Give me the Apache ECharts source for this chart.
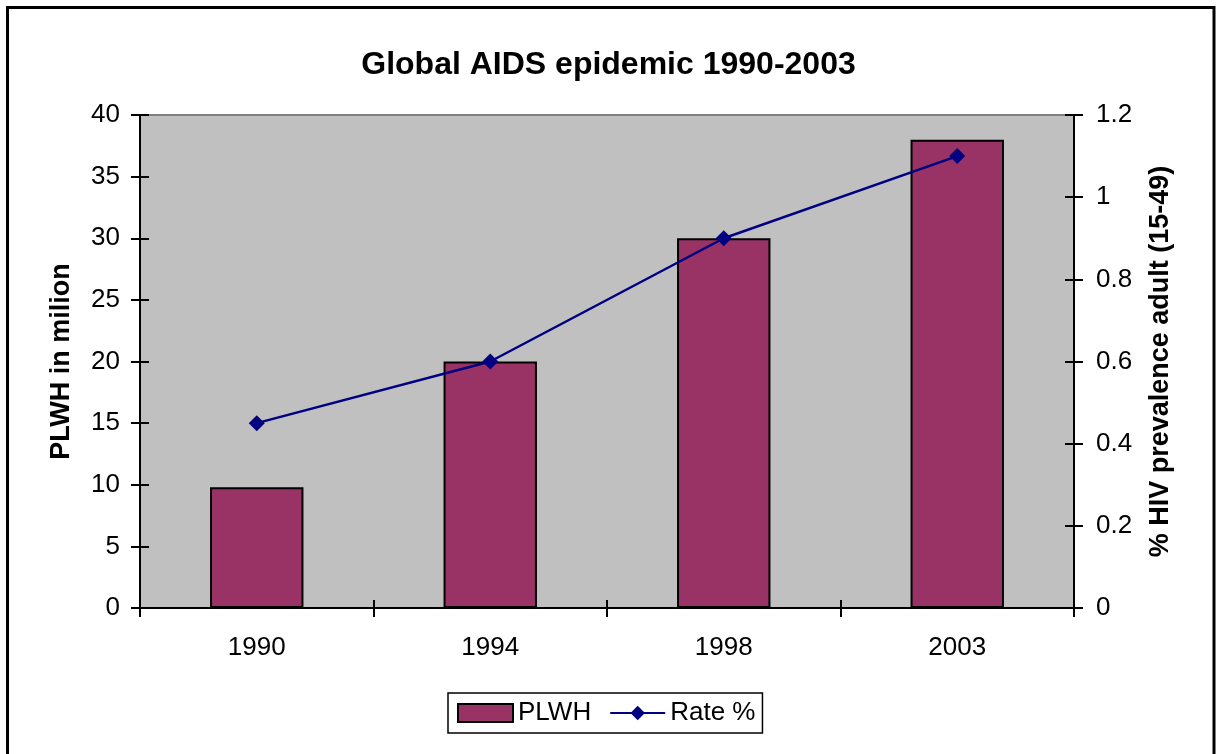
<!DOCTYPE html>
<html>
<head>
<meta charset="utf-8">
<script src="https://cdn.jsdelivr.net/npm/echarts@6/dist/echarts.min.js"></script>
<style>
  html, body { margin: 0; padding: 0; background: #fff; }
  #chart { width: 1217px; height: 754px; }
</style>
</head>
<body>
<div id="chart"></div>
<script>
// Global AIDS epidemic: people living with HIV (millions) and adult prevalence rate
const years = ['1990', '1994', '1998', '2003'];
const plwh = [9.8, 20, 30, 38];
const ratePct = [0.45, 0.6, 0.9, 1.1];

const FONT = '"Liberation Sans", Arial, sans-serif';

const chart = echarts.init(document.getElementById('chart'), null, { renderer: 'canvas' });

const tickStyle = { color: '#000', width: 2 };
const lineStyle = { color: '#000', width: 2 };
const plotBox = { left: 140, right: 143, top: 115, bottom: 146 };

// Tick marks cross the axis lines: the data axes are shifted inward by half a
// tick length and draw long outside ticks; the lines come from an overlay grid.
const HALF_TICK = 9;

chart.setOption({
  backgroundColor: '#fff',
  animation: false,
  textStyle: { fontFamily: FONT },
  title: {
    text: 'Global AIDS epidemic 1990-2003',
    left: 'center',
    top: 44,
    textStyle: { fontFamily: FONT, fontSize: 32, fontWeight: 'bold', color: '#000' }
  },
  graphic: [{
    type: 'rect',
    shape: { x: 7.5, y: 7.5, width: 1206.5, height: 760 },
    style: { fill: 'none', stroke: '#000', lineWidth: 3 },
    z: 100
  }],
  legend: {
    left: 448,
    top: 693,
    padding: [7, 7, 7, 9],
    itemGap: 18,
    itemWidth: 55,
    itemHeight: 18,
    borderColor: '#000',
    borderWidth: 1.5,
    textStyle: { fontFamily: FONT, fontSize: 26, color: '#000' },
    data: [{ name: 'PLWH', icon: 'rect' }, { name: 'Rate %' }]
  },
  grid: [
    Object.assign({
      show: true,
      backgroundColor: '#c0c0c0',
      borderColor: '#808080',
      borderWidth: 2
    }, plotBox),
    Object.assign({ show: false }, plotBox)
  ],
  xAxis: [{
    type: 'category',
    gridIndex: 0,
    data: years,
    boundaryGap: true,
    offset: -HALF_TICK + 1,
    axisLine: { show: false },
    axisTick: { show: true, inside: false, length: 2 * HALF_TICK - 1, lineStyle: tickStyle },
    axisLabel: { fontFamily: FONT, fontSize: 26, color: '#000', margin: 27 + HALF_TICK - 1 },
    z: 10
  }, {
    type: 'category',
    gridIndex: 1,
    data: years,
    position: 'bottom',
    axisLine: { show: true, lineStyle: lineStyle },
    axisTick: { show: false },
    axisLabel: { show: false },
    z: 11
  }],
  yAxis: [{
    type: 'value',
    gridIndex: 0,
    min: 0, max: 40, interval: 5,
    position: 'left',
    offset: -HALF_TICK,
    name: 'PLWH in milion',
    nameLocation: 'middle',
    nameGap: 65 + HALF_TICK,
    nameRotate: 90,
    nameTextStyle: { fontFamily: FONT, fontSize: 27, fontWeight: 'bold', color: '#000' },
    axisLine: { show: false },
    axisTick: { show: true, inside: false, length: 2 * HALF_TICK, lineStyle: tickStyle },
    axisLabel: { fontFamily: FONT, fontSize: 26, color: '#000', margin: 20 + HALF_TICK },
    splitLine: { show: false },
    z: 10
  }, {
    type: 'value',
    gridIndex: 0,
    min: 0, max: 1.2, interval: 0.2,
    position: 'right',
    offset: -HALF_TICK,
    name: '% HIV prevalence adult (15-49)',
    nameLocation: 'middle',
    nameGap: 73 + HALF_TICK,
    nameRotate: 90,
    nameTextStyle: { fontFamily: FONT, fontSize: 27, fontWeight: 'bold', color: '#000' },
    axisLine: { show: false },
    axisTick: { show: true, inside: false, length: 2 * HALF_TICK, lineStyle: tickStyle },
    axisLabel: {
      fontFamily: FONT, fontSize: 26, color: '#000', margin: 22 + HALF_TICK,
      formatter: v => String(Math.round(v * 10) / 10)
    },
    splitLine: { show: false },
    z: 10
  }, {
    type: 'value',
    gridIndex: 1,
    min: 0, max: 40,
    position: 'left',
    axisLine: { show: true, lineStyle: lineStyle },
    axisTick: { show: false },
    axisLabel: { show: false },
    splitLine: { show: false },
    z: 11
  }, {
    type: 'value',
    gridIndex: 1,
    min: 0, max: 1.2,
    position: 'right',
    axisLine: { show: true, lineStyle: lineStyle },
    axisTick: { show: false },
    axisLabel: { show: false },
    splitLine: { show: false },
    z: 11
  }],
  series: [{
    name: 'PLWH',
    type: 'bar',
    xAxisIndex: 0,
    yAxisIndex: 0,
    data: plwh,
    barWidth: '40%',
    itemStyle: { color: '#993366', borderColor: '#000', borderWidth: 2 }
  }, {
    name: 'Rate %',
    type: 'line',
    xAxisIndex: 0,
    yAxisIndex: 1,
    data: ratePct,
    symbol: 'diamond',
    symbolSize: 16,
    lineStyle: { color: '#000080', width: 2.5 },
    itemStyle: { color: '#000080' },
    z: 5
  }]
});
</script>
</body>
</html>
